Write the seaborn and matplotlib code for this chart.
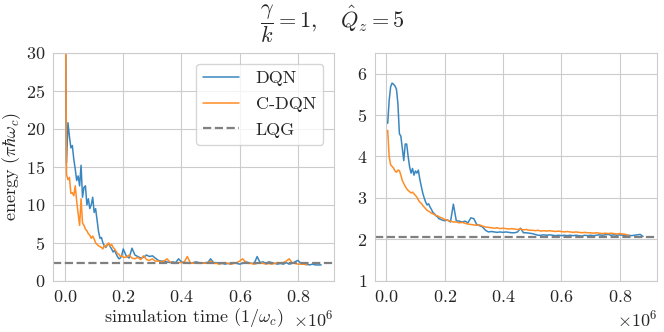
import numpy as np
import seaborn as sns
import matplotlib
matplotlib.use("Agg")
import matplotlib.pyplot as plt

# time grid (units of 1e6 / omega_c): fine at the start, coarser later
early_t = [round(0.005 * k, 3) for k in range(1, 41)]
late_t = [round(0.2 + 0.01 * k, 2) for k in range(1, 69)]

# left panel: gamma/k = 1, Q_z = 5, energy in pi*hbar*omega_c
dqn_left = [33, 15.5, 20.8, 19.0, 17.5, 17.8, 16.0, 14.7, 13.2, 13.8, 12.5,
            15.2, 11.0, 12.3, 12.5, 10.0, 10.8, 9.5, 10.0, 11.0, 9.0,
            9.5, 8.0, 6.5, 5.6, 5.7, 5.0, 4.6, 4.4, 4.7, 4.9,
            4.5, 4.2, 3.8, 4.0, 3.6, 3.2, 2.9, 3.0, 3.4, 4.2,
            3.3, 3.0, 4.3, 3.4, 3.2, 3.0, 3.1, 3.4, 3.2, 3.3,
            3.0, 2.7, 2.6, 2.6, 2.5, 2.4, 2.5, 2.4, 2.9, 2.5,
            2.4, 2.4, 2.3, 2.4, 2.5, 2.4, 2.3, 2.4, 2.4, 2.9,
            2.4, 2.4, 2.3, 2.3, 2.2, 2.3, 2.2, 2.4, 2.3, 2.2,
            2.3, 2.5, 2.4, 2.3, 2.3, 3.2, 2.4, 2.5, 2.3, 2.5,
            2.4, 2.3, 2.2, 2.3, 2.2, 2.4, 2.2, 2.3, 2.5, 2.7,
            2.3, 2.2, 2.2, 2.1, 2.2, 2.1, 2.1, 2.1]
cdqn_left = [34, 14.0, 13.3, 13.6, 11.5, 11.6, 11.2, 12.5, 10.5, 8.8, 7.3,
             10.8, 7.6, 7.3, 6.8, 6.6, 6.2, 6.0, 5.6, 5.9, 5.5,
             5.0, 4.8, 4.6, 4.5, 4.4, 4.2, 4.7, 4.5, 4.8, 5.0,
             4.6, 4.8, 4.4, 4.2, 3.9, 3.6, 3.5, 3.2, 3.3, 3.1,
             3.1, 3.4, 3.0, 2.9, 3.1, 2.8, 3.3, 2.8, 2.7, 2.9,
             2.6, 2.6, 2.5, 2.6, 2.9, 2.5, 2.4, 2.3, 2.4, 2.4,
             2.5, 3.2, 2.4, 2.3, 2.4, 2.3, 2.4, 2.3, 2.4, 2.6,
             2.3, 2.3, 2.2, 2.3, 2.4, 2.3, 2.2, 2.3, 2.4, 2.6,
             2.9, 2.5, 2.3, 2.3, 2.2, 2.3, 2.4, 2.3, 2.2, 2.3,
             2.2, 2.3, 2.4, 2.3, 2.4, 2.6, 2.9, 2.4, 2.3, 2.2,
             2.2, 2.2, 2.1]
lqg_left = 2.4

# right panel
dqn_right = [4.8, 5.35, 5.68, 5.77, 5.74, 5.70, 5.62, 5.27, 4.55, 4.49,
             4.2, 3.9, 4.3, 4.3, 4.0, 3.75, 3.6, 3.71, 3.55, 3.65,
             3.6, 3.67, 3.45, 3.28, 3.12, 3.0, 2.9, 2.83, 2.86, 2.78,
             2.72, 2.65, 2.62, 2.57, 2.55, 2.5, 2.49, 2.47, 2.46, 2.45,
             2.47, 2.42, 2.85, 2.45, 2.44, 2.42, 2.44, 2.40, 2.52, 2.50,
             2.36, 2.33, 2.30, 2.22, 2.18, 2.19, 2.18, 2.17, 2.18, 2.17,
             2.18, 2.17, 2.16, 2.16, 2.18, 2.27, 2.16, 2.16, 2.15, 2.14,
             2.12, 2.10, 2.10, 2.11, 2.10, 2.11, 2.10, 2.09, 2.10, 2.09,
             2.10, 2.09, 2.10, 2.09, 2.10, 2.09, 2.08, 2.10, 2.09, 2.10,
             2.09, 2.10, 2.11, 2.10, 2.11, 2.12, 2.10, 2.11, 2.10, 2.11,
             2.10, 2.09, 2.10, 2.09, 2.10, 2.11, 2.12, 2.07]
cdqn_right = [4.63, 4.0, 3.8, 3.76, 3.72, 3.65, 3.62, 3.67, 3.66, 3.55,
              3.42, 3.35, 3.28, 3.22, 3.18, 3.15, 3.12, 3.14, 3.1, 3.06,
              3.02, 2.95, 2.9, 2.87, 2.82, 2.78, 2.74, 2.7, 2.68, 2.66,
              2.63, 2.62, 2.6, 2.58, 2.57, 2.55, 2.53, 2.52, 2.50, 2.48,
              2.46, 2.44, 2.42, 2.42, 2.40, 2.41, 2.39, 2.37, 2.36, 2.35,
              2.34, 2.35, 2.32, 2.30, 2.29, 2.28, 2.27, 2.28, 2.26, 2.27,
              2.26, 2.25, 2.26, 2.25, 2.24, 2.25, 2.23, 2.24, 2.22, 2.22,
              2.21, 2.22, 2.20, 2.21, 2.20, 2.21, 2.20, 2.19, 2.20, 2.19,
              2.18, 2.19, 2.18, 2.17, 2.18, 2.17, 2.16, 2.17, 2.16, 2.16,
              2.15, 2.16, 2.15, 2.14, 2.15, 2.14, 2.15, 2.14, 2.13, 2.14,
              2.13, 2.12, 2.10]
lqg_right = 2.05

BLUE = "#3a87c0"
ORANGE = "#ff8c24"


def times(values, first=None):
    grid = ([first] if first is not None else []) + early_t + late_t
    return np.array(grid[:len(values)]) * 1e6


sns.set_style("whitegrid")
plt.rcParams["font.family"] = ["cmr10", "DejaVu Serif"]
plt.rcParams["mathtext.fontset"] = "cm"
plt.rcParams["axes.formatter.use_mathtext"] = True

fig = plt.figure(figsize=(6.64, 3.32), dpi=100)
ax1 = fig.add_axes([0.080, 0.154, 0.423, 0.687])
ax2 = fig.add_axes([0.565, 0.154, 0.425, 0.687])

sns.lineplot(x=times(dqn_left, 0.002), y=dqn_left, ax=ax1, color=BLUE,
             lw=1.1, label="DQN", sort=False)
sns.lineplot(x=times(cdqn_left, 0.002), y=cdqn_left, ax=ax1, color=ORANGE,
             lw=1.1, label="C-DQN", sort=False)
ax1.axhline(lqg_left, color="gray", ls="--", lw=1.6, label="LQG")

sns.lineplot(x=times(dqn_right), y=dqn_right, ax=ax2, color=BLUE, lw=1.1, sort=False)
sns.lineplot(x=times(cdqn_right), y=cdqn_right, ax=ax2, color=ORANGE, lw=1.1, sort=False)
ax2.axhline(lqg_right, color="gray", ls="--", lw=1.6)

ax1.set_xlim(-0.041e6, 0.924e6)
ax1.set_ylim(0, 30)
ax2.set_xlim(-0.038e6, 0.929e6)
ax2.set_ylim(1, 6.5)
ax1.set_yticks([0, 5, 10, 15, 20, 25, 30])
ax2.set_yticks([1, 2, 3, 4, 5, 6])

for ax in (ax1, ax2):
    ax.ticklabel_format(style="sci", axis="x", scilimits=(6, 6))
    ax.set_xticks([0, 0.2e6, 0.4e6, 0.6e6, 0.8e6])
    ax.tick_params(labelsize=13, pad=2)
    ax.xaxis.get_offset_text().set_fontsize(13)

ax1.set_xlabel(r"simulation time ($1/\omega_c$)", fontsize=13, labelpad=1)
ax1.set_ylabel(r"energy ($\pi\hbar\omega_c$)", fontsize=13, labelpad=2)
ax2.set_xlabel("")
ax2.set_ylabel("")
if ax2.get_legend() is not None:
    ax2.get_legend().remove()

ax1.legend(loc="upper right", fontsize=13, frameon=True, labelspacing=0.55,
           handlelength=2.0, handletextpad=0.9, borderaxespad=0.6)

fig.suptitle(r"$\dfrac{\gamma}{k}=1,\quad \hat{Q}_z=5$", fontsize=16, y=0.995)

fig.savefig("out.png", dpi=100)
